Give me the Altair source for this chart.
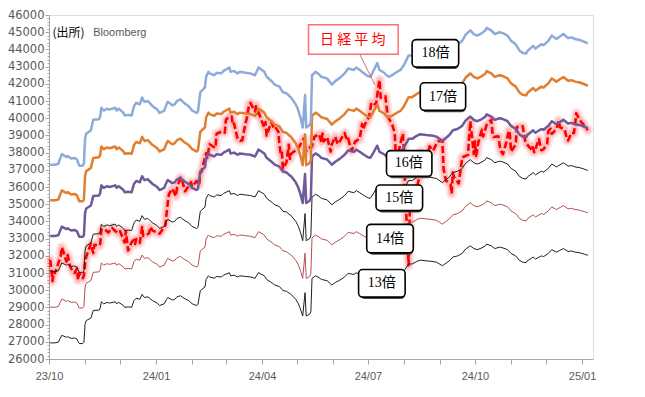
import altair as alt
import pandas as pd

# ---------------- data ----------------
# 予想EPS (yen) — fair-value lines are EPS x PER multiple
eps_dates = [
    "2023-10-02", "2023-10-06", "2023-10-09", "2023-10-12", "2023-10-16", "2023-10-17", "2023-10-20",
    "2023-10-23", "2023-10-25", "2023-10-27", "2023-10-30", "2023-10-31", "2023-11-01", "2023-11-02",
    "2023-11-06", "2023-11-08", "2023-11-13", "2023-11-14", "2023-11-15", "2023-11-17", "2023-11-20",
    "2023-11-22", "2023-11-27", "2023-11-28", "2023-11-30", "2023-12-04", "2023-12-05", "2023-12-08",
    "2023-12-11", "2023-12-13", "2023-12-15", "2023-12-18", "2023-12-20", "2023-12-22", "2023-12-25",
    "2023-12-27", "2023-12-29", "2024-01-02", "2024-01-04", "2024-01-08", "2024-01-10", "2024-01-11",
    "2024-01-15", "2024-01-17", "2024-01-19", "2024-01-22", "2024-01-24", "2024-01-26", "2024-01-29",
    "2024-02-01", "2024-02-05", "2024-02-06", "2024-02-08", "2024-02-12", "2024-02-13", "2024-02-15",
    "2024-02-16", "2024-02-20", "2024-02-22", "2024-02-26", "2024-02-28", "2024-03-04", "2024-03-05",
    "2024-03-08", "2024-03-11", "2024-03-13", "2024-03-18", "2024-03-22", "2024-03-26", "2024-03-29",
    "2024-04-03", "2024-04-05", "2024-04-10", "2024-04-12", "2024-04-16", "2024-04-19", "2024-04-22",
    "2024-04-25", "2024-04-26", "2024-04-30", "2024-05-02", "2024-05-04", "2024-05-06", "2024-05-08",
    "2024-05-09", "2024-05-12", "2024-05-13", "2024-05-14", "2024-05-17", "2024-05-20", "2024-05-22",
    "2024-05-27", "2024-05-31", "2024-06-03", "2024-06-07", "2024-06-11", "2024-06-14", "2024-06-19",
    "2024-06-21", "2024-06-24", "2024-06-27", "2024-07-01", "2024-07-03", "2024-07-05", "2024-07-09",
    "2024-07-11", "2024-07-15", "2024-07-17", "2024-07-19", "2024-07-23", "2024-07-26", "2024-07-29",
    "2024-08-01", "2024-08-05", "2024-08-08", "2024-08-12", "2024-08-15", "2024-08-20", "2024-08-26",
    "2024-08-29", "2024-09-03", "2024-09-09", "2024-09-12", "2024-09-16", "2024-09-20", "2024-09-23",
    "2024-09-27", "2024-09-30", "2024-10-03", "2024-10-07", "2024-10-10", "2024-10-11", "2024-10-15",
    "2024-10-18", "2024-10-22", "2024-10-25", "2024-10-29", "2024-11-01", "2024-11-05", "2024-11-08",
    "2024-11-11", "2024-11-14", "2024-11-15", "2024-11-20", "2024-11-22", "2024-11-27", "2024-11-29",
    "2024-12-03", "2024-12-06", "2024-12-10", "2024-12-13", "2024-12-16", "2024-12-20", "2024-12-23",
    "2024-12-26", "2024-12-30", "2025-01-03", "2025-01-06",
]
eps_values = [
    2072, 2072, 2075, 2106, 2097, 2100, 2092,
    2094, 2089, 2069, 2069, 2075, 2156, 2172,
    2183, 2217, 2219, 2228, 2256, 2247, 2253,
    2250, 2256, 2247, 2253, 2239, 2231, 2233,
    2231, 2261, 2272, 2267, 2289, 2275, 2278,
    2269, 2261, 2250, 2239, 2247, 2267, 2275,
    2264, 2267, 2278, 2283, 2275, 2269, 2261,
    2247, 2239, 2244, 2306, 2322, 2356, 2372,
    2367, 2361, 2369, 2367, 2375, 2386, 2372,
    2375, 2367, 2372, 2369, 2367, 2361, 2386,
    2372, 2356, 2339, 2331, 2324, 2306, 2303,
    2292, 2289, 2267, 2250, 2225, 2192, 2297,
    2192, 2200, 2211, 2361, 2372, 2364, 2356,
    2350, 2331, 2342, 2353, 2367, 2383, 2378,
    2386, 2378, 2369, 2358, 2356, 2369, 2400,
    2378, 2369, 2361, 2356, 2364, 2372, 2378,
    2394, 2425, 2425, 2436, 2442, 2439, 2436,
    2433, 2417, 2439, 2456, 2461, 2472, 2492,
    2506, 2494, 2489, 2497, 2506, 2514, 2506,
    2494, 2500, 2497, 2489, 2472, 2461, 2442,
    2433, 2431, 2439, 2456, 2447, 2461, 2458,
    2472, 2489, 2478, 2486, 2494, 2481, 2483,
    2478, 2475, 2469, 2464,
]

multiples = [18, 17, 16, 15, 14, 13]
multiple_labels = ["18倍", "17倍", "16倍", "15倍", "14倍", "13倍"]

# 日経平均 closes
nikkei_dates = [
    "2023-10-02", "2023-10-03", "2023-10-04", "2023-10-05", "2023-10-06", "2023-10-10", "2023-10-11",
    "2023-10-12", "2023-10-13", "2023-10-16", "2023-10-17", "2023-10-19", "2023-10-20", "2023-10-23",
    "2023-10-25", "2023-10-26", "2023-10-27", "2023-10-30", "2023-10-31", "2023-11-01", "2023-11-02",
    "2023-11-06", "2023-11-08", "2023-11-09", "2023-11-13", "2023-11-14", "2023-11-15", "2023-11-17",
    "2023-11-21", "2023-11-24", "2023-11-29", "2023-12-01", "2023-12-05", "2023-12-06", "2023-12-08",
    "2023-12-11", "2023-12-13", "2023-12-14", "2023-12-15", "2023-12-18", "2023-12-20", "2023-12-21",
    "2023-12-26", "2023-12-27", "2023-12-29", "2024-01-04", "2024-01-05", "2024-01-09", "2024-01-10",
    "2024-01-11", "2024-01-12", "2024-01-15", "2024-01-18", "2024-01-19", "2024-01-22", "2024-01-24",
    "2024-01-26", "2024-01-31", "2024-02-01", "2024-02-05", "2024-02-07", "2024-02-08", "2024-02-09",
    "2024-02-13", "2024-02-14", "2024-02-16", "2024-02-21", "2024-02-22", "2024-02-27", "2024-02-29",
    "2024-03-01", "2024-03-04", "2024-03-06", "2024-03-07", "2024-03-08", "2024-03-11", "2024-03-13",
    "2024-03-15", "2024-03-18", "2024-03-19", "2024-03-21", "2024-03-22", "2024-03-26", "2024-03-27",
    "2024-03-28", "2024-03-29", "2024-04-01", "2024-04-03", "2024-04-04", "2024-04-05", "2024-04-09",
    "2024-04-11", "2024-04-12", "2024-04-15", "2024-04-16", "2024-04-17", "2024-04-18", "2024-04-19",
    "2024-04-22", "2024-04-24", "2024-04-25", "2024-04-26", "2024-05-02", "2024-05-07", "2024-05-09",
    "2024-05-10", "2024-05-14", "2024-05-16", "2024-05-20", "2024-05-22", "2024-05-23", "2024-05-24",
    "2024-05-27", "2024-05-30", "2024-05-31", "2024-06-03", "2024-06-05", "2024-06-07", "2024-06-11",
    "2024-06-13", "2024-06-14", "2024-06-17", "2024-06-20", "2024-06-24", "2024-06-26", "2024-06-27",
    "2024-06-28", "2024-07-02", "2024-07-04", "2024-07-08", "2024-07-10", "2024-07-11", "2024-07-12",
    "2024-07-16", "2024-07-18", "2024-07-22", "2024-07-24", "2024-07-25", "2024-07-26", "2024-07-31",
    "2024-08-01", "2024-08-02", "2024-08-05", "2024-08-06", "2024-08-07", "2024-08-08", "2024-08-09",
    "2024-08-13", "2024-08-15", "2024-08-16", "2024-08-19", "2024-08-20", "2024-08-21", "2024-08-23",
    "2024-08-26", "2024-08-30", "2024-09-03", "2024-09-04", "2024-09-06", "2024-09-10", "2024-09-11",
    "2024-09-12", "2024-09-13", "2024-09-17", "2024-09-19", "2024-09-20", "2024-09-25", "2024-09-26",
    "2024-09-27", "2024-09-30", "2024-10-01", "2024-10-02", "2024-10-04", "2024-10-07", "2024-10-08",
    "2024-10-11", "2024-10-15", "2024-10-16", "2024-10-17", "2024-10-21", "2024-10-23", "2024-10-25",
    "2024-10-28", "2024-10-30", "2024-10-31", "2024-11-01", "2024-11-05", "2024-11-06", "2024-11-08",
    "2024-11-11", "2024-11-13", "2024-11-14", "2024-11-18", "2024-11-19", "2024-11-21", "2024-11-25",
    "2024-11-27", "2024-11-29", "2024-12-02", "2024-12-03", "2024-12-05", "2024-12-06", "2024-12-10",
    "2024-12-12", "2024-12-13", "2024-12-17", "2024-12-19", "2024-12-20", "2024-12-23", "2024-12-25",
    "2024-12-26", "2024-12-27", "2024-12-30", "2025-01-06",
]
nikkei_values = [
    31759, 31237, 30526, 31075, 30995, 31746, 31936,
    32494, 32315, 31659, 32040, 31430, 31259, 30999,
    31269, 30601, 30991, 30697, 30858, 31601, 31949,
    32708, 32166, 32646, 32585, 32695, 33519, 33585,
    33354, 33625, 33321, 33431, 32775, 33445, 32307,
    32791, 32926, 32686, 32970, 32758, 33675, 33140,
    33305, 33681, 33464, 33288, 33377, 33763, 34441,
    35049, 35577, 35901, 35466, 35963, 36546, 36226,
    35751, 36286, 36011, 36354, 36119, 36863, 36897,
    37963, 37703, 38487, 38262, 39098, 39239, 39166,
    39910, 40109, 40090, 39598, 39688, 38820, 38695,
    38707, 39740, 40003, 40815, 40888, 40398, 40762,
    40168, 40369, 39803, 39451, 39773, 38992, 39773,
    39442, 39523, 39232, 38471, 37961, 38079, 37068,
    37438, 38460, 37628, 37934, 38236, 38835, 38073,
    38229, 38356, 38920, 39069, 38617, 39103, 38646,
    38900, 38054, 38487, 38923, 38490, 38683, 39134,
    38720, 38814, 38102, 38633, 38804, 39667, 39341,
    39583, 40074, 40913, 40780, 41831, 42224, 41190,
    41275, 40126, 39599, 39154, 37869, 37667, 39101,
    38126, 35909, 31458, 34675, 35089, 34831, 35025,
    36232, 36726, 38062, 37388, 37951, 37670, 38364,
    38110, 38647, 38686, 37047, 36391, 36159, 35619,
    36833, 36581, 36203, 37155, 37723, 37870, 38925,
    39829, 37919, 38651, 37808, 38635, 39332, 38937,
    39605, 39910, 39180, 38911, 38954, 38104, 37913,
    38605, 39277, 39081, 38053, 38474, 39480, 39500,
    39533, 38721, 38536, 38220, 38414, 38026, 38780,
    38134, 38208, 38513, 39248, 39395, 39091, 39367,
    39849, 39470, 39364, 38813, 38701, 39161, 39130,
    39568, 40281, 39894, 39307,
]

# axis ticks
y_ticks = list(range(26000, 46001, 1000))
y_minor_ticks = list(range(26000, 46001, 200))
month_ticks = [f"{y}-{m:02d}-01" for y, m in
               [(2023, 10), (2023, 11), (2023, 12)] + [(2024, m) for m in range(1, 13)] + [(2025, 1)]]

# annotation boxes: label, x1, x2, y_low, y_high, text x, text y
box_labels = ["18倍", "17倍", "16倍", "15倍", "14倍", "13倍"]
box_x1 = ["2024-08-08", "2024-08-15", "2024-07-17", "2024-07-08", "2024-06-30", "2024-06-23"]
box_x2 = ["2024-09-17", "2024-09-23", "2024-08-25", "2024-08-17", "2024-08-09", "2024-08-02"]
box_y1 = [42971, 40457, 36629, 34629, 32171, 29600]
box_y2 = [44571, 42057, 38114, 36114, 33829, 31200]
box_tx = ["2024-08-28", "2024-09-03 12:00", "2024-08-05", "2024-07-28", "2024-07-20", "2024-07-13"]
box_ty = [43771, 41257, 37371, 35371, 33000, 30400]

# ---------------- tables ----------------
def ms(s):
    return int(pd.Timestamp(s, tz="UTC").value // 10**6)

eps_df = pd.DataFrame({"date": eps_dates, "eps": eps_values})
fair_rows = []
for m, lab in zip(multiples, multiple_labels):
    for d, e in zip(eps_dates, eps_values):
        fair_rows.append({"date": d, "value": e * m, "series": lab})
fair_df = pd.DataFrame(fair_rows)
nikkei_df = pd.DataFrame({"date": nikkei_dates, "value": nikkei_values})
box_df = pd.DataFrame({"label": box_labels, "x1": box_x1, "x2": box_x2,
                       "y1": box_y1, "y2": box_y2, "tx": box_tx, "ty": box_ty})
nk_box_df = pd.DataFrame({"label": ["日 経 平 均"], "x1": ["2024-05-11"], "x2": ["2024-07-27"],
                          "y1": [43714], "y2": [45429], "tx": ["2024-06-18"], "ty": [44571],
                          "lx": ["2024-06-24"], "ly": [43714], "lx2": ["2024-07-07"], "ly2": [41943]})
src_df = pd.DataFrame({"t1": ["(出所)"], "x1": ["2023-10-04"], "t2": ["Bloomberg"],
                       "x2": ["2023-11-08"], "y": [44950]})

# ---------------- scales / axes ----------------
xscale = alt.Scale(type="utc", domain=[ms("2023-10-01"), ms("2025-01-10 10:00")])
yscale = alt.Scale(domain=[26000, 46000], nice=False, zero=False)
xaxis = alt.Axis(values=[ms(s) for s in month_ticks],
                 labelExpr="utcmonth(datum.value) % 3 == 0 ? utcFormat(datum.value, '%y/%m') : ''",
                 labelFont="Liberation Sans", labelFontSize=11, labelColor="#595959",
                 tickSize=5, tickColor="#a6a6a6", domainColor="#a6a6a6", labelPadding=6,
                 grid=False, title=None, labelFlush=False)
yaxis = alt.Axis(values=y_ticks, format="d", labelFont="DejaVu Sans", labelFontSize=11.5,
                 labelColor="#595959", tickSize=4, tickColor="#a6a6a6", domainColor="#a6a6a6",
                 labelPadding=1, grid=False, title=None)


def X(field):
    return alt.X(f"{field}:T", scale=xscale, axis=xaxis)


def Y(field):
    return alt.Y(f"{field}:Q", scale=yscale, axis=yaxis)


# ---------------- layers ----------------
nk_base = alt.Chart(nikkei_df).encode(x=X("date"), y=Y("value"))
glow1 = nk_base.mark_line(color="#ff0000", strokeWidth=11, opacity=0.10, strokeJoin="round", strokeCap="round")
glow2 = nk_base.mark_line(color="#ff0000", strokeWidth=6.5, opacity=0.16, strokeJoin="round", strokeCap="round")
nk_line = nk_base.mark_line(color="#ff0000", strokeWidth=2.6, strokeDash=[7, 3], strokeJoin="round")

styles = {
    "13倍": ("#1f1f1f", 1.0),
    "14倍": ("#b5524f", 1.0),
    "15倍": ("#1f1f1f", 1.0),
    "16倍": ("#6f5a9c", 2.5),
    "17倍": ("#e07f2f", 2.5),
    "18倍": ("#8eaadb", 2.5),
}
fair_layers = []
for lab in ["13倍", "14倍", "15倍", "16倍", "17倍", "18倍"]:
    col, w = styles[lab]
    fair_layers.append(
        alt.Chart(fair_df).transform_filter(alt.datum.series == lab)
        .mark_line(color=col, strokeWidth=w, strokeJoin="round")
        .encode(x=X("date"), y=Y("value"))
    )

shadow = alt.Chart(box_df).mark_rect(fill="#4d4d4d", cornerRadius=4, xOffset=2, yOffset=2).encode(
    x=X("x1"), x2="x2:T", y=Y("y1"), y2="y2:Q")
boxes = alt.Chart(box_df).mark_rect(fill="white", stroke="#000000", strokeWidth=1.6, cornerRadius=4).encode(
    x=X("x1"), x2="x2:T", y=Y("y1"), y2="y2:Q")
box_text = alt.Chart(box_df).mark_text(font="Liberation Serif, Noto Sans CJK JP", fontSize=14,
                                       color="#000000", baseline="middle", align="center").encode(
    x=X("tx"), y=Y("ty"), text="label:N")

nk_leader = alt.Chart(nk_box_df).mark_rule(color="#c0504d", strokeWidth=0.8).encode(
    x=X("lx"), x2="lx2:T", y=Y("ly"), y2="ly2:Q")
nk_box = alt.Chart(nk_box_df).mark_rect(fill="white", stroke="#ff6f6f", strokeWidth=1.5).encode(
    x=X("x1"), x2="x2:T", y=Y("y1"), y2="y2:Q")
nk_text = alt.Chart(nk_box_df).mark_text(font="Noto Sans CJK JP", fontSize=14, color="#ff0000",
                                         baseline="middle", align="center").encode(
    x=X("tx"), y=Y("ty"), text="label:N")

src1 = alt.Chart(src_df).mark_text(font="Noto Sans CJK JP", fontSize=12, color="#000000",
                                   align="left", baseline="middle").encode(x=X("x1"), y=Y("y"), text="t1:N")
src2 = alt.Chart(src_df).mark_text(font="Liberation Sans", fontSize=11, color="#595959",
                                   align="left", baseline="middle").encode(x=X("x2"), y=Y("y"), text="t2:N")

main = alt.layer(glow1, glow2, nk_line, *fair_layers, nk_leader, nk_box, nk_text,
                 shadow, boxes, box_text, src1, src2)

minor = alt.Chart(eps_df).mark_line(opacity=0).encode(
    x=X("date"),
    y=alt.Y("eps:Q", scale=alt.Scale(domain=[26000, 46000], nice=False, zero=False),
            axis=alt.Axis(values=y_minor_ticks, labels=False, tickSize=2, tickColor="#a6a6a6",
                          domain=False, grid=False, title=None, orient="left")),
)

chart = (
    alt.layer(main, minor)
    .resolve_scale(y="independent")
    .properties(width=544, height=344, padding={"left": 41, "top": 7, "right": 10, "bottom": 30},
                autosize=alt.AutoSizeParams(type="none"))
    .configure_view(stroke=None)
    .configure(background="white")
)

chart.save("out.html", embed_options={"renderer": "svg", "actions": False})
